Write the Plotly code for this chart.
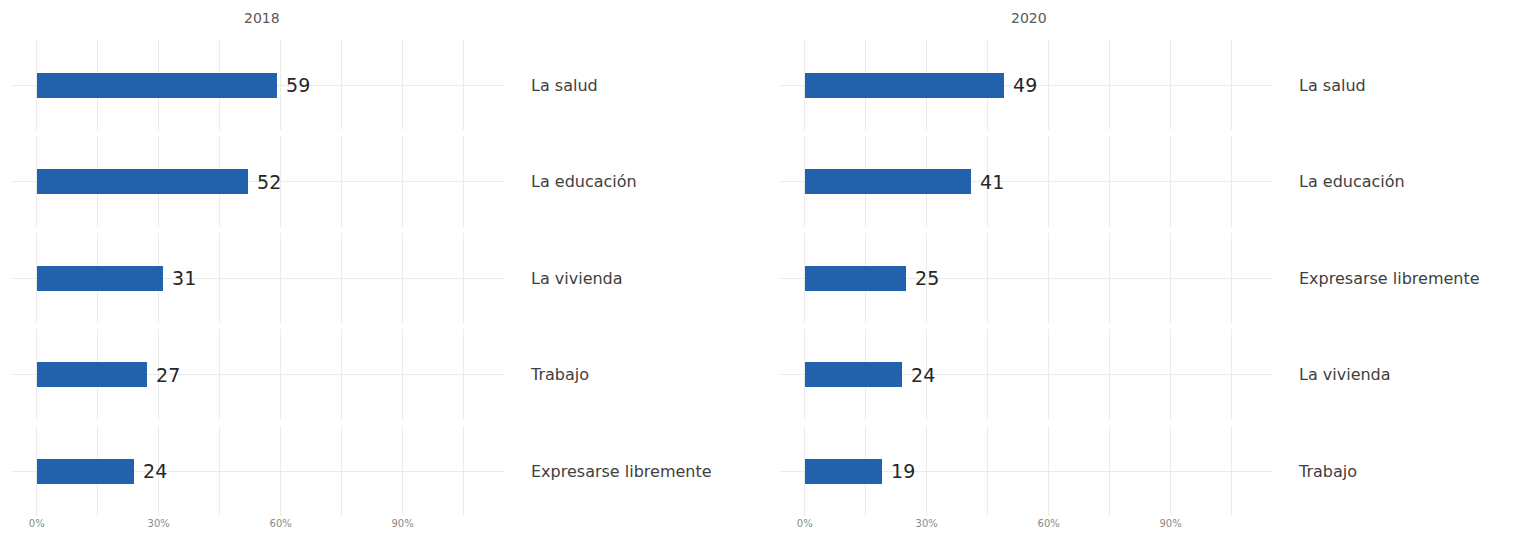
import plotly.graph_objects as go

years = ["2018", "2020"]
cats_2018 = ["La salud", "La educación", "La vivienda", "Trabajo", "Expresarse libremente"]
vals_2018 = [59, 52, 31, 27, 24]
cats_2020 = ["La salud", "La educación", "Expresarse libremente", "La vivienda", "Trabajo"]
vals_2020 = [49, 41, 25, 24, 19]
tick_vals = [0, 30, 60, 90]
tick_text = ["0%", "30%", "60%", "90%"]

OFF = 8  # page body margin
W, H = 1527 - OFF, 536 - OFF
panels = [(cats_2018, vals_2018, 12 - OFF, 505 - OFF, 262 - OFF),
          (cats_2020, vals_2020, 780 - OFF, 1273 - OFF, 1029 - OFF)]
row_top0, row_h, row_step = 39.75 - OFF, 90.5, 96.5
xr = [-6.1, 115.2]
bar_color = "#2262AC"
grid_color = "#ebebeb"
font_family = "DejaVu Sans, Arial, sans-serif"

fig = go.Figure()
layout = {}
k = 0
for c, (cats, vals, px0, px1, tc) in enumerate(panels):
    for r, (cat, val) in enumerate(zip(cats, vals)):
        k += 1
        sx = "" if k == 1 else str(k)
        fig.add_trace(go.Bar(
            x=[val], y=[cat], orientation="h", width=0.28,
            marker=dict(color=bar_color, line=dict(width=0)),
            text=["\u00a0" + str(val)], textposition="outside",
            textfont=dict(size=19, color="#262626", family=font_family),
            cliponaxis=False, showlegend=False,
            xaxis="x" + sx, yaxis="y" + sx, hoverinfo="skip",
        ))
        top = row_top0 + r * row_step
        ydom = [1 - (top + row_h) / H, 1 - top / H]
        last = r == len(cats) - 1
        layout["xaxis" + sx] = dict(
            domain=[px0 / W, px1 / W], range=xr, anchor="y" + sx,
            tickmode="array", tickvals=tick_vals, ticktext=tick_text, showticklabels=last,
            tickfont=dict(size=10, color="#8a8a8a", family=font_family),
            showgrid=True, gridcolor=grid_color, gridwidth=1,
            minor=dict(tickvals=[15, 45, 75, 105], showgrid=True, gridcolor=grid_color, gridwidth=1),
            zeroline=False, showline=False, ticks="", fixedrange=True,
        )
        layout["yaxis" + sx] = dict(
            domain=ydom, anchor="x" + sx, type="category", side="right",
            range=[-0.5, 0.5], showgrid=True, gridcolor=grid_color, gridwidth=1,
            zeroline=False, showline=False, ticks="",
            ticklabelstandoff=25,
            tickfont=dict(size=16, color="#404040", family=font_family),
            fixedrange=True,
        )

annotations = []
for c, (cats, vals, px0, px1, tc) in enumerate(panels):
    annotations.append(dict(
        text=years[c], x=tc / W, y=1 - (18 - OFF) / H,
        xref="paper", yref="paper", showarrow=False,
        font=dict(size=14, color="#595959", family=font_family),
        xanchor="center", yanchor="middle",
    ))

fig.update_layout(
    width=W, height=H, margin=dict(l=0, r=0, t=0, b=0),
    paper_bgcolor="white", plot_bgcolor="white",
    annotations=annotations, bargap=0, **layout,
)
fig.write_html("out.html")
